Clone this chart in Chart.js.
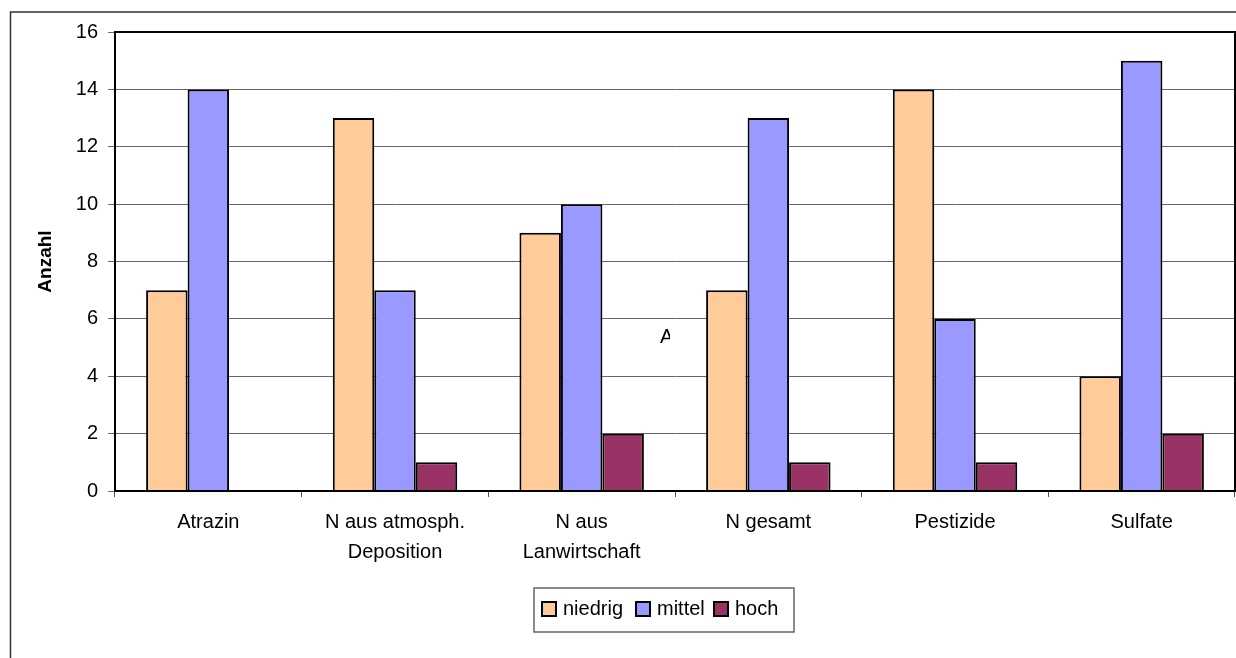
<!DOCTYPE html>
<html>
<head>
<meta charset="utf-8">
<script src="https://cdn.jsdelivr.net/npm/chart.js@4.4.1/dist/chart.umd.min.js"></script>
<style>
  html, body { margin: 0; padding: 0; background: #fff; }
  #wrap { width: 1236px; height: 658px; position: relative; }
</style>
</head>
<body>
<div id="wrap"><canvas id="chart" width="1236" height="658"></canvas></div>
<script>
const categories = [
    'Atrazin',
    ['N aus atmosph.', 'Deposition'],
    ['N aus', 'Lanwirtschaft'],
    'N gesamt',
    'Pestizide',
    'Sulfate'
];
const niedrig = [7, 13, 9, 7, 14, 4];
const mittel = [14, 7, 10, 13, 6, 15];
const hoch = [0, 1, 2, 1, 1, 2];
const yTicks = [0, 2, 4, 6, 8, 10, 12, 14, 16];

const FONT = 'Arial, "Liberation Sans", sans-serif';

// frame around the whole chart, box around the plot, legend with border
const framePlugin = {
    id: 'frame',
    beforeDraw(chart) {
        const ctx = chart.ctx;
        ctx.save();
        ctx.fillStyle = '#fff';
        ctx.fillRect(0, 0, chart.width, chart.height);
        ctx.strokeStyle = '#333';
        ctx.lineWidth = 1.5;
        ctx.beginPath();
        ctx.moveTo(10.5, chart.height + 2);
        ctx.lineTo(10.5, 12);
        ctx.lineTo(chart.width + 2, 12);
        ctx.stroke();
        ctx.restore();
    },
    afterDraw(chart) {
        const ctx = chart.ctx;
        const a = chart.chartArea;
        ctx.save();
        ctx.strokeStyle = '#000';
        ctx.lineWidth = 2;
        ctx.strokeRect(a.left, a.top, a.right - a.left, a.bottom - a.top);

        // leftover label fragment inside the plot
        ctx.beginPath();
        ctx.rect(640, 320, 30, 40);
        ctx.clip();
        ctx.fillStyle = '#000';
        ctx.font = '20px ' + FONT;
        ctx.textBaseline = 'alphabetic';
        ctx.fillText('A', 660, 343);
        ctx.restore();

        // legend
        ctx.save();
        ctx.strokeStyle = '#666';
        ctx.lineWidth = 1.5;
        ctx.strokeRect(534, 588, 260, 44);
        ctx.font = '20px ' + FONT;
        ctx.textBaseline = 'middle';
        const xs = [542, 636, 714];
        chart.data.datasets.forEach((ds, i) => {
            ctx.fillStyle = ds.backgroundColor;
            ctx.fillRect(xs[i], 602, 14, 14);
            ctx.strokeStyle = '#000';
            ctx.lineWidth = 2;
            ctx.strokeRect(xs[i], 602, 14, 14);
            ctx.fillStyle = '#000';
            ctx.fillText(ds.label, xs[i] + 21, 609);
        });
        ctx.restore();
    }
};

new Chart(document.getElementById('chart').getContext('2d'), {
    type: 'bar',
    data: {
        labels: categories,
        datasets: [
            { label: 'niedrig', data: niedrig, backgroundColor: '#FFCC99' },
            { label: 'mittel', data: mittel, backgroundColor: '#9999FF' },
            { label: 'hoch', data: hoch, backgroundColor: '#993366' }
        ]
    },
    options: {
        responsive: false,
        animation: false,
        layout: { padding: { top: 32, right: 1, left: 0, bottom: 0 } },
        datasets: {
            bar: {
                borderColor: '#000',
                borderWidth: 2,
                categoryPercentage: 3 / 4.5,
                barPercentage: 1
            }
        },
        plugins: {
            legend: { display: false },
            tooltip: { enabled: false }
        },
        scales: {
            x: {
                afterFit: (scale) => { scale.height = 167; },
                grid: {
                    offset: true,
                    drawOnChartArea: false,
                    drawTicks: true,
                    tickLength: 6,
                    color: '#555'
                },
                border: { color: '#000', width: 2 },
                ticks: {
                    color: '#000',
                    font: { family: FONT, size: 20, lineHeight: 1.5 },
                    padding: 10,
                    maxRotation: 0,
                    autoSkip: false
                }
            },
            y: {
                min: 0,
                max: 16,
                afterFit: (scale) => { scale.width = 115; },
                afterBuildTicks: (scale) => {
                    scale.ticks = yTicks.map(v => ({ value: v }));
                },
                grid: {
                    color: '#666',
                    lineWidth: 1,
                    tickLength: 7
                },
                border: { color: '#000', width: 2 },
                ticks: {
                    color: '#000',
                    font: { family: FONT, size: 20 },
                    padding: 10
                },
                title: {
                    display: true,
                    text: 'Anzahl',
                    color: '#000',
                    font: { family: FONT, size: 19, weight: 'bold' },
                    padding: { top: 34, bottom: 0 }
                }
            }
        }
    },
    plugins: [framePlugin]
});
</script>
</body>
</html>
